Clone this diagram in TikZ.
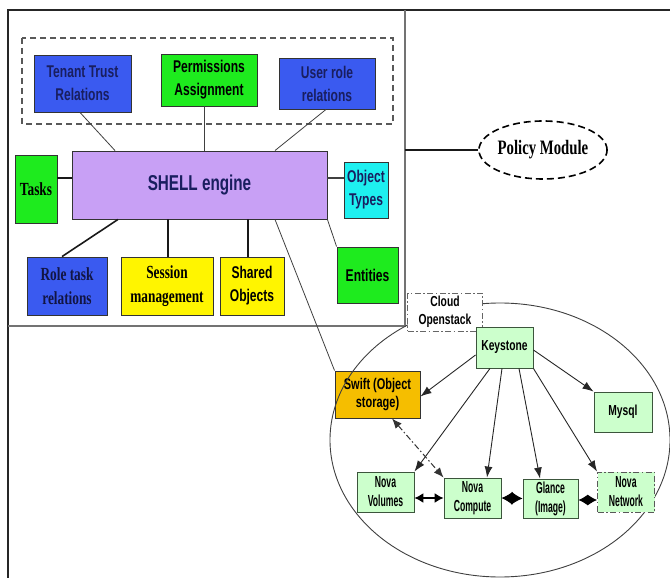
\documentclass[tikz,border=0pt]{standalone}
\usepackage{fontspec}
\usetikzlibrary{arrows.meta,shapes.geometric}

% condensed faces used for the labels
\newfontfamily\sansW[FakeStretch=0.71]{Liberation Sans}
\newfontfamily\sansN[FakeStretch=0.54]{Liberation Sans}
\newfontfamily\serifW[FakeStretch=0.72]{Liberation Serif}

\definecolor{boxblue}{RGB}{58,90,240}
\definecolor{boxgreen}{RGB}{30,235,30}
\definecolor{shellpurple}{RGB}{200,160,245}
\definecolor{boxcyan}{RGB}{30,240,240}
\definecolor{boxyellow}{RGB}{255,245,0}
\definecolor{swiftorange}{RGB}{245,190,0}
\definecolor{palegreen}{RGB}{204,255,204}
\definecolor{navytxt}{RGB}{25,30,95}
\definecolor{edgegreen}{RGB}{60,85,60}

\tikzset{
  box/.style={draw=black!80, line width=0.9pt, inner sep=1pt, align=center},
  sansbig/.style={font=\sansW\bfseries\fontsize{17}{23}\selectfont},
  serifbig/.style={font=\serifW\bfseries\fontsize{18.5}{24}\selectfont},
  bluebox/.style={box, sansbig, fill=boxblue, text=navytxt},
  greenbox/.style={box, sansbig, fill=boxgreen},
  yellowbox/.style={box, sansbig, fill=boxyellow},
  cloudbox/.style={draw=edgegreen, line width=0.9pt, fill=palegreen, align=center,
    inner sep=1pt, font=\sansW\bfseries\fontsize{14.5}{18}\selectfont},
  rowbox/.style={cloudbox, font=\sansN\bfseries\fontsize{16}{19}\selectfont,
    minimum width=57pt, minimum height=40pt},
  conn/.style={draw=black!75, line width=0.8pt},
  heavy/.style={draw=black!90, line width=1.6pt},
  dashdot/.style={dash pattern=on 6pt off 2.5pt on 1.5pt off 2.5pt},
  karrow/.style={draw=black!85, line width=0.9pt, -{Latex[length=11pt,width=8pt]}},
}

\begin{document}
\begin{tikzpicture}[x=1pt,y=-1pt]
\useasboundingbox (0,0) rectangle (670,578);

% page frame and SHELL region
\draw[line width=1.8pt, black!85] (670,10) -- (8,10) -- (8,578);
\draw[line width=1.4pt, black!55] (405,10) -- (405,326) -- (8,326);

% dashed group of relations
\draw[draw=black!65, line width=1.4pt, dash pattern=on 6pt off 4pt] (22,38) rectangle (393,124);

\node[bluebox, minimum width=97pt, minimum height=57pt] (tenant) at (82.5,83.5) {Tenant Trust\\Relations};
\node[greenbox, minimum width=96pt, minimum height=52pt] (perm) at (209,80) {Permissions\\Assignment};
\node[bluebox, minimum width=96pt, minimum height=51pt] (userrole) at (327,83.5) {User role\\relations};

\node[box, fill=shellpurple, text=navytxt, minimum width=255pt, minimum height=68pt,
  font=\sansW\bfseries\fontsize{21.5}{25}\selectfont] (shell) at (199.5,185) {SHELL engine};

\node[box, serifbig, fill=boxgreen, minimum width=42pt, minimum height=68pt] (tasks) at (36,189) {Tasks};
\node[box, sansbig, fill=boxcyan, text=navytxt, minimum width=44pt, minimum height=56pt] (objtypes) at (366,190) {Object\\Types};
\node[greenbox, minimum width=61pt, minimum height=56pt] (entities) at (367.5,275) {Entities};
\node[box, serifbig, fill=boxblue, text=navytxt!70!black, minimum width=80pt, minimum height=58pt] (roletask) at (67,286) {Role task\\relations};
\node[box, serifbig, fill=boxyellow, minimum width=92pt, minimum height=58pt] (session) at (167,286) {Session\\management};
\node[yellowbox, minimum width=64pt, minimum height=58pt] (shared) at (252,286) {Shared\\Objects};

% links of the SHELL engine
\draw[conn] ([xshift=-2.5pt]tenant.south) -- ([xshift=-84.5pt]shell.north);
\draw[conn] ([xshift=-5pt]perm.south) -- ([xshift=4.5pt]shell.north);
\draw[conn] ([xshift=-1pt]userrole.south) -- ([xshift=75.5pt]shell.north);
\draw[heavy] ([yshift=11pt]tasks.east) -- ([yshift=11pt]tasks.east -| shell.west);
\draw[conn, line width=1.4pt] ([yshift=12pt]objtypes.west -| shell.east) -- ([yshift=12pt]objtypes.west);
\draw[conn] (shell.south east) -- (entities.north west);
\draw[heavy] ([xshift=-81.5pt]shell.south) -- ([xshift=-5pt]roletask.north);
\draw[heavy, line width=1.2pt] ([xshift=-31.5pt]shell.south) -- ([xshift=1pt]session.north);
\draw[heavy, line width=1.2pt] ([xshift=48.5pt]shell.south) -- ([xshift=-4pt]shared.north);

% policy module
\node[draw=black, line width=1.6pt, dash pattern=on 7pt off 4pt, ellipse, inner sep=0pt,
  minimum width=122pt, minimum height=58pt,
  font=\serifW\bfseries\fontsize{20.5}{24}\selectfont] (policy) at (543,150) {Policy Module};
\coordinate (frameR) at (405,150);
\draw[heavy, line width=1.8pt] (frameR) -- (policy.west);

% OpenStack cloud
\node[box, fill=swiftorange, minimum width=85pt, minimum height=47pt,
  font=\sansW\bfseries\fontsize{15.5}{18.5}\selectfont] (swift) at (377.5,394.5) {Swift (Object\\storage)};
\draw[conn] ([xshift=75.5pt]shell.south) -- (swift.north west);

\node[draw=black!75, line width=0.9pt, ellipse, minimum width=340pt, minimum height=274pt] (cloud) at (500,440) {};

\node[draw=black!60, line width=1pt, fill=white, dashdot, minimum width=75pt, minimum height=38pt,
  inner sep=1pt, align=center, font=\sansW\bfseries\fontsize{14.5}{18}\selectfont] (openstack) at (445,312) {Cloud\\Openstack};

\node[cloudbox, minimum width=57pt, minimum height=41pt] (keystone) at (504.5,347.5) {Keystone};
\node[cloudbox, minimum width=58pt, minimum height=40pt] (mysql) at (623,412) {Mysql};
\node[rowbox] (novavol) at (385.5,492) {Nova\\Volumes};
\node[rowbox] (novacomp) at (472.5,498) {Nova\\Compute};
\node[rowbox, minimum width=55pt, minimum height=39pt] (glance) at (550.5,498.5) {Glance\\(Image)};
\node[rowbox, draw=black!65, dashdot] (novanet) at (626,492) {Nova\\Network};

% Keystone fan-out
\draw[karrow] ([yshift=-7.5pt]keystone.west) -- ([yshift=-2pt]swift.east);
\draw[karrow] ([xshift=-14.5pt]keystone.south) -- (novavol.north east);
\draw[karrow] ([xshift=-2.5pt]keystone.south) -- ([xshift=14.5pt]novacomp.north);
\draw[karrow] ([xshift=14.5pt]keystone.south) -- ([xshift=-10.5pt]glance.north);
\draw[karrow] (keystone.south east) -- (novanet.north west);
\draw[karrow] ([yshift=-2.5pt]keystone.east) -- (mysql.north west);

% links between services
\draw[draw=black!80, line width=1pt, dashdot, {Latex[length=10pt,width=8pt]}-{Latex[length=10pt,width=8pt]}]
  ([xshift=14.5pt]swift.south) -- (novacomp.north west);
\draw[draw=black, line width=1.3pt, {Latex[length=9pt,width=10pt]}-{Latex[length=9pt,width=10pt]}]
  (novavol.east |- novacomp.west) -- (novacomp.west);
\draw[draw=black, line width=1pt, {Latex[length=11pt,width=13pt]}-{Latex[length=11pt,width=13pt]}]
  (novacomp.east) -- (glance.west);
\draw[draw=black, line width=1pt, {Latex[length=9.5pt,width=11pt]}-{Latex[length=9.5pt,width=11pt]}]
  ([yshift=-1.5pt]glance.east) -- ([yshift=-1.5pt]glance.east -| novanet.west);
\end{tikzpicture}
\end{document}
